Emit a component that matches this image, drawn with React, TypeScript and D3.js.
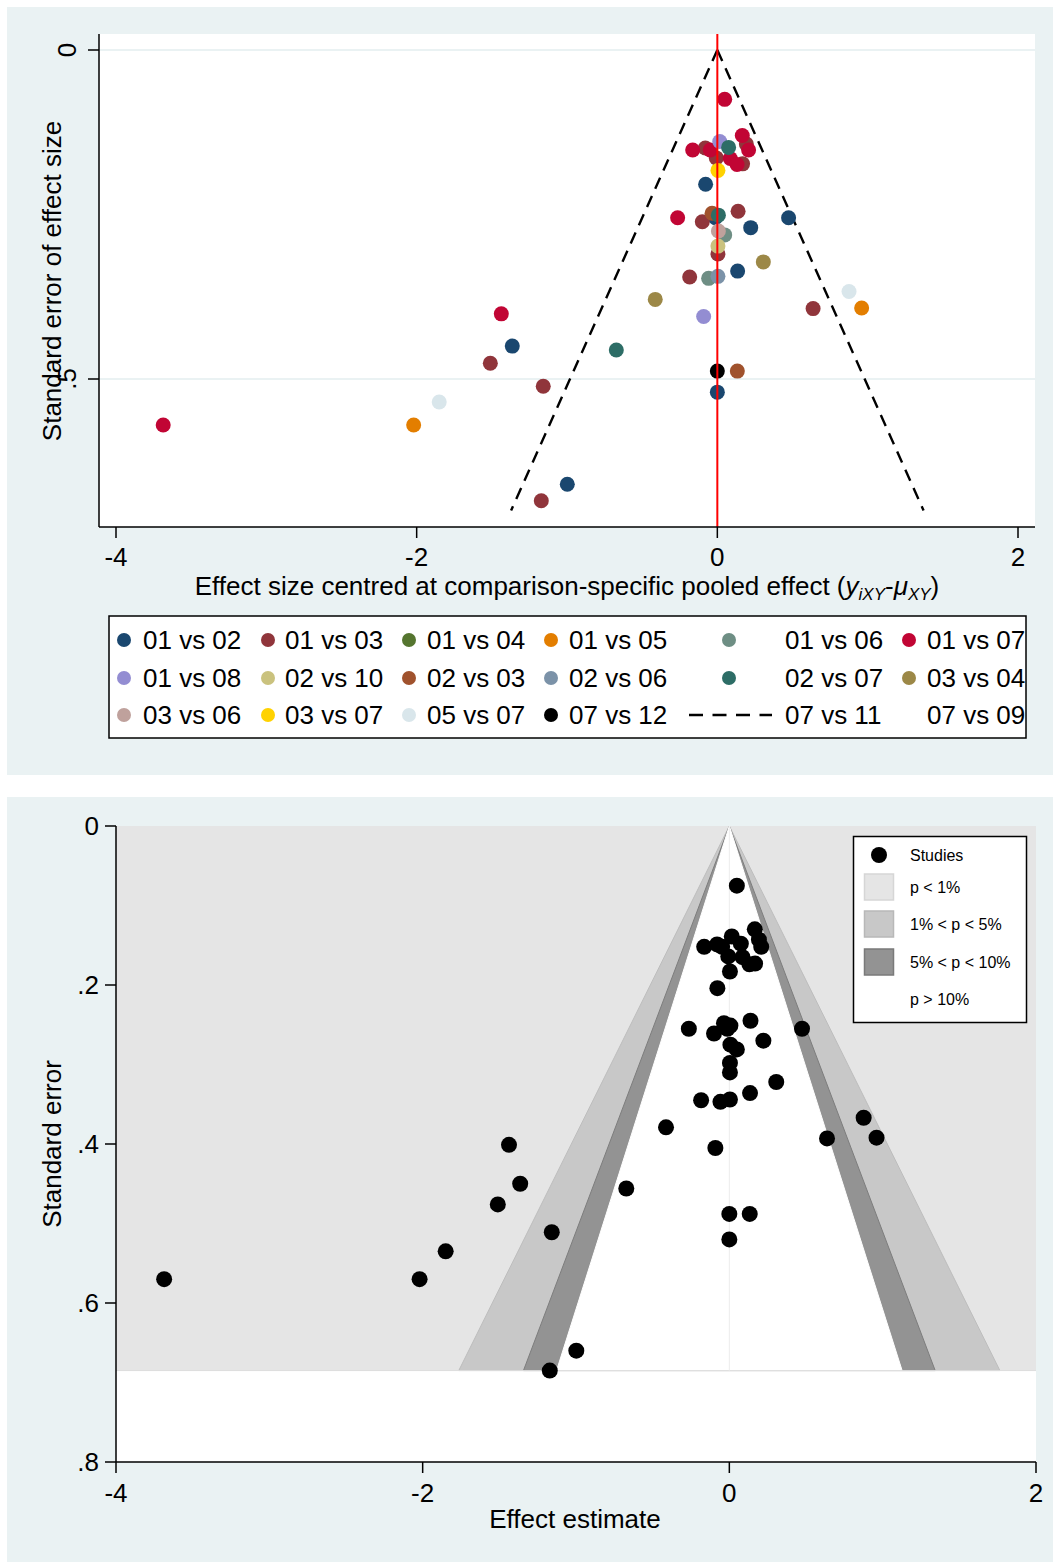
import React from "react";
import * as d3 from "d3";

const seriesNames = [
  "01 vs 02", "01 vs 03", "01 vs 04", "01 vs 05", "01 vs 06", "01 vs 07",
  "01 vs 08", "02 vs 10", "02 vs 03", "02 vs 06", "02 vs 07", "03 vs 04",
  "03 vs 06", "03 vs 07", "05 vs 07", "07 vs 12",
];
const seriesColors = [
  "#1a476f", "#90353b", "#55752f", "#e37e00", "#6e8e84", "#c10534",
  "#938dd2", "#cac27e", "#a0522d", "#7b92a8", "#2d6d66", "#9c8847",
  "#bfa19c", "#ffd200", "#d9e6eb", "#000000",
];
const extraLegend = ["07 vs 11", "07 vs 09"];

const studyGroup = [
  "01 vs 02", "01 vs 02", "01 vs 02", "01 vs 02", "01 vs 02", "01 vs 02", "01 vs 02", "01 vs 02",
  "01 vs 03", "01 vs 03", "01 vs 03", "01 vs 03", "01 vs 03", "01 vs 03", "01 vs 03", "01 vs 03", "01 vs 03", "01 vs 03", "01 vs 03", "01 vs 03",
  "01 vs 05", "01 vs 05",
  "01 vs 06", "01 vs 06",
  "01 vs 07", "01 vs 07", "01 vs 07", "01 vs 07", "01 vs 07", "01 vs 07", "01 vs 07", "01 vs 07", "01 vs 07", "01 vs 07",
  "01 vs 08", "01 vs 08",
  "02 vs 10",
  "02 vs 03", "02 vs 03",
  "02 vs 06",
  "02 vs 07", "02 vs 07", "02 vs 07",
  "03 vs 04", "03 vs 04",
  "03 vs 06",
  "03 vs 07",
  "05 vs 07", "05 vs 07",
  "07 vs 12",
];
const studyEffect = [
  -0.078, -0.013, 0.222, 0.474, 0.135, -1.364, 0.0, -0.998,
  -0.08, -0.007, 0.193, 0.168, -0.1, 0.138, 0.004, -0.184, 0.637, -1.51, -1.158, -1.171,
  0.96, -2.02,
  0.049, -0.058,
  0.049, -0.164, -0.047, 0.166, 0.208, 0.086, 0.131, -0.264, -1.437, -3.686,
  0.016, -0.091,
  0.004,
  -0.035, 0.133,
  0.004,
  0.075, 0.007, -0.672,
  0.306, -0.413,
  0.007,
  0.004,
  0.876, -1.85,
  0.0,
];
const studySE = [
  0.204, 0.255, 0.27, 0.255, 0.336, 0.45, 0.52, 0.66,
  0.149, 0.164, 0.143, 0.173, 0.261, 0.245, 0.31, 0.345, 0.393, 0.476, 0.511, 0.685,
  0.392, 0.57,
  0.281, 0.347,
  0.075, 0.152, 0.152, 0.13, 0.152, 0.165, 0.174, 0.255, 0.401, 0.57,
  0.139, 0.405,
  0.298,
  0.248, 0.488,
  0.344,
  0.148, 0.251, 0.456,
  0.322, 0.379,
  0.275,
  0.183,
  0.367, 0.535,
  0.488,
];

const xTicks = [-4, -2, 0, 2];
const topYTicks = [0, 0.5];
const topYTickLabels = ["0", ".5"];
const bottomYTicks = [0, 0.2, 0.4, 0.6, 0.8];
const bottomYTickLabels = ["0", ".2", ".4", ".6", ".8"];
const funnelZ = 1.96;
const funnelSeMax = 0.7;
const contourZ = [2.576, 1.96, 1.645];
const contourFills = ["#c8c8c8", "#939393", "#ffffff"];
const contourEdges = ["#bdbdbd", "#7d7d7d", "#ffffff"];
const contourLegendLabels = ["Studies", "p < 1%", "1% < p < 5%", "5% < p < 10%", "p > 10%"];
const contourLegendFills = ["#e5e5e5", "#c8c8c8", "#939393"];
const contourLegendEdges = ["#d6d6d6", "#b8b8b8", "#7a7a7a"];

const FONT = "'Liberation Sans', Arial, Helvetica, sans-serif";
const BG = "#eaf2f3";

export default function App() {
  const colorOf = d3.scaleOrdinal<string, string>().domain(seriesNames).range(seriesColors);
  const order = d3.range(studyGroup.length).sort(
    (a, b) => seriesNames.indexOf(studyGroup[a]) - seriesNames.indexOf(studyGroup[b]) || a - b
  );

  // ---------- top plot ----------
  const tx = d3.scaleLinear().domain([-4, 2]).range([116, 1018]);
  const ty = d3.scaleLinear().domain([0, 0.5]).range([50, 379]);
  const tL = 99, tR = 1035, tT = 34, tB = 527;

  const funnelLine = d3.line<[number, number]>().x((d) => tx(d[0])).y((d) => ty(d[1]));
  const leftFunnel: [number, number][] = [[0, 0], [-funnelZ * funnelSeMax, funnelSeMax]];
  const rightFunnel: [number, number][] = [[0, 0], [funnelZ * funnelSeMax, funnelSeMax]];

  const legMarkerX = [124, 268, 409, 551, 729, 909];
  const legLabelX = [143, 285, 427, 569, 785, 927];
  const legRowY = [640, 678, 715];
  const legendItems = [...seriesNames, ...extraLegend];

  // ---------- bottom plot ----------
  const bx = d3.scaleLinear().domain([-4, 2]).range([116, 1036]);
  const by = d3.scaleLinear().domain([0, 0.8]).range([826, 1462]);
  const bL = 116, bR = 1036, bT = 826, bB = 1462;
  const seMax = d3.max(studySE) as number;
  const area = d3.line<[number, number]>().x((d) => bx(d[0])).y((d) => by(d[1]));

  return (
    <svg
      width={1053}
      height={1562}
      style={{ position: "absolute", left: 0, top: 0, display: "block" }}
      fontFamily={FONT}
    >
      <rect x={0} y={0} width={1053} height={1562} fill="#ffffff" />
      {/* ===== TOP PANEL ===== */}
      <rect x={7} y={7} width={1046} height={768} fill={BG} />
      <rect x={tL} y={tT} width={tR - tL} height={tB - tT} fill="#ffffff" />
      {topYTicks.map((t) => (
        <line key={"tg" + t} x1={tL} x2={tR} y1={ty(t)} y2={ty(t)} stroke={BG} strokeWidth={2} />
      ))}
      <path d={funnelLine(leftFunnel) || ""} fill="none" stroke="#000" strokeWidth={2.4} strokeDasharray="12,8" />
      <path d={funnelLine(rightFunnel) || ""} fill="none" stroke="#000" strokeWidth={2.4} strokeDasharray="12,8" />
      {order.map((i) => (
        <circle key={"tp" + i} cx={tx(studyEffect[i])} cy={ty(studySE[i])} r={7.5} fill={colorOf(studyGroup[i])} />
      ))}
      <line x1={tx(0)} x2={tx(0)} y1={tT} y2={tB} stroke="#ff0000" strokeWidth={2} />
      <line x1={tL} x2={tL} y1={tT} y2={tB} stroke="#000" strokeWidth={1.5} />
      <line x1={tL} x2={tR} y1={tB} y2={tB} stroke="#000" strokeWidth={1.5} />
      {topYTicks.map((t, i) => (
        <g key={"tyt" + t}>
          <line x1={tL - 11} x2={tL} y1={ty(t)} y2={ty(t)} stroke="#000" strokeWidth={1.5} />
          <text transform={`translate(76,${ty(t)}) rotate(-90)`} textAnchor="middle" fontSize={26}>
            {topYTickLabels[i]}
          </text>
        </g>
      ))}
      {xTicks.map((t) => (
        <g key={"txt" + t}>
          <line x1={tx(t)} x2={tx(t)} y1={tB} y2={tB + 11} stroke="#000" strokeWidth={1.5} />
          <text x={tx(t)} y={566} textAnchor="middle" fontSize={26}>
            {d3.format("d")(t).replace("−", "-")}
          </text>
        </g>
      ))}
      <text transform="translate(61,281) rotate(-90)" textAnchor="middle" fontSize={26}>
        Standard error of effect size
      </text>
      <text x={567} y={595} textAnchor="middle" fontSize={26}>
        Effect size centred at comparison-specific pooled effect (
        <tspan fontStyle="italic">y</tspan>
        <tspan fontSize={17} dy={5} fontStyle="italic">iXY</tspan>
        <tspan dy={-5}>-</tspan>
        <tspan fontStyle="italic">μ</tspan>
        <tspan fontSize={17} dy={5} fontStyle="italic">XY</tspan>
        <tspan dy={-5}>)</tspan>
      </text>
      <rect x={109} y={616} width={917} height={122} fill="#ffffff" stroke="#000" strokeWidth={1.5} />
      {legendItems.map((name, k) => {
        const row = Math.floor(k / 6);
        const col = k % 6;
        const y = legRowY[row];
        const si = seriesNames.indexOf(name);
        return (
          <g key={"leg" + k}>
            {si >= 0 && <circle cx={legMarkerX[col]} cy={y} r={7} fill={seriesColors[si]} />}
            {name === "07 vs 11" && (
              <line x1={689} x2={772} y1={y} y2={y} stroke="#000" strokeWidth={2.4} strokeDasharray="14,9.5" />
            )}
            <text x={legLabelX[col]} y={y + 9} fontSize={26}>
              {name}
            </text>
          </g>
        );
      })}

      {/* ===== BOTTOM PANEL ===== */}
      <rect x={7} y={797} width={1046} height={765} fill={BG} />
      <rect x={bL} y={bT} width={bR - bL} height={bB - bT} fill="#ffffff" />
      <rect x={bL} y={bT} width={bR - bL} height={by(seMax) - bT} fill="#e5e5e5" />
      {contourZ.map((z, k) => (
        <path
          key={"cz" + k}
          d={
            (area([
              [0, 0],
              [-z * seMax, seMax],
              [z * seMax, seMax],
            ]) || "") + "Z"
          }
          fill={contourFills[k]}
          stroke={contourEdges[k]}
          strokeWidth={1}
        />
      ))}
      <line x1={bL} x2={bR} y1={by(seMax)} y2={by(seMax)} stroke="#dddddd" strokeWidth={1} />
      <line x1={bx(0)} x2={bx(0)} y1={bT} y2={by(seMax)} stroke="#ececec" strokeWidth={1} />
      {order.map((i) => (
        <circle key={"bp" + i} cx={bx(studyEffect[i])} cy={by(studySE[i])} r={8} fill="#000" />
      ))}
      <line x1={bL} x2={bL} y1={bT} y2={bB} stroke="#000" strokeWidth={1.5} />
      <line x1={bL} x2={bR} y1={bB} y2={bB} stroke="#000" strokeWidth={1.5} />
      {bottomYTicks.map((t, i) => (
        <g key={"byt" + t}>
          <line x1={bL - 11} x2={bL} y1={by(t)} y2={by(t)} stroke="#000" strokeWidth={1.5} />
          <text x={99} y={by(t) + 9} textAnchor="end" fontSize={26}>
            {bottomYTickLabels[i]}
          </text>
        </g>
      ))}
      {xTicks.map((t) => (
        <g key={"bxt" + t}>
          <line x1={bx(t)} x2={bx(t)} y1={bB} y2={bB + 11} stroke="#000" strokeWidth={1.5} />
          <text x={bx(t)} y={1502} textAnchor="middle" fontSize={26}>
            {d3.format("d")(t).replace("−", "-")}
          </text>
        </g>
      ))}
      <text transform="translate(61,1144) rotate(-90)" textAnchor="middle" fontSize={26}>
        Standard error
      </text>
      <text x={575} y={1528} textAnchor="middle" fontSize={26}>
        Effect estimate
      </text>
      <rect x={853.5} y={836.5} width={173} height={186} fill="#ffffff" stroke="#000" strokeWidth={1.5} />
      {contourLegendLabels.map((lab, k) => {
        const rowY = [855, 887, 924, 962, 999][k];
        return (
          <g key={"cl" + k}>
            {k === 0 && <circle cx={879} cy={rowY} r={8} fill="#000" />}
            {k >= 1 && k <= 3 && (
              <rect
                x={864.5}
                y={rowY - 13}
                width={29}
                height={26}
                fill={contourLegendFills[k - 1]}
                stroke={contourLegendEdges[k - 1]}
                strokeWidth={1.5}
              />
            )}
            <text x={910} y={rowY + 6} fontSize={16}>
              {lab}
            </text>
          </g>
        );
      })}
    </svg>
  );
}
